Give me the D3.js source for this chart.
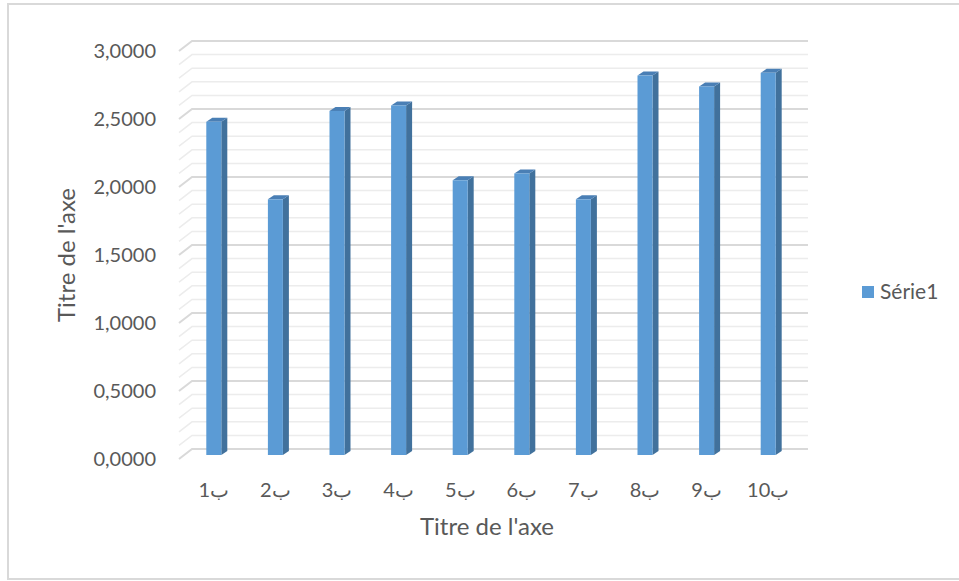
<!DOCTYPE html>
<html><head><meta charset="utf-8">
<script src="https://cdn.jsdelivr.net/npm/d3@7"></script>
<style>body{margin:0;background:#fff}svg{display:block}</style>
</head><body>
<svg id="c" width="959" height="581"></svg>
<script>
const categories = ["ب1","ب2","ب3","ب4","ب5","ب6","ب7","ب8","ب9","ب10"];
const values = [2.45, 1.88, 2.53, 2.57, 2.02, 2.07, 1.88, 2.79, 2.71, 2.81];
const yTicks = [0, 0.5, 1, 1.5, 2, 2.5, 3];
const minorTicks = d3.range(0, 3.0001, 0.1);
const seriesName = "Série1";
const axisTitle = "Titre de l'axe";

const svg = d3.select("#c");
const font = "Lato, 'Open Sans', sans-serif";
const txt = "#595959";

svg.append("rect").attr("x",8).attr("y",4).attr("width",960).attr("height",575)
  .attr("fill","#fff").attr("stroke","#d9d9d9").attr("stroke-width",2);

// back wall scale
const yBack = d3.scaleLinear().domain([0,3]).range([449,41]);
const backX0 = 192, backX1 = 808;
const dx = -13, dy = 10; // depth offset back->front

const g = svg.append("g");
function gridLine(v, major){
  const y = yBack(v);
  g.append("path")
    .attr("d", `M${backX0+dx},${y+dy}L${backX0},${y}L${backX1},${y}`)
    .attr("fill","none")
    .attr("stroke", major ? "#d9d9d9" : "#ececec")
    .attr("stroke-width", major ? 2 : 1.5);
}
minorTicks.forEach(v => { if (!yTicks.some(t => Math.abs(t-v)<1e-6)) gridLine(v,false); });
yTicks.forEach(v => gridLine(v,true));

// y tick labels
svg.append("g").selectAll("text").data(yTicks).enter().append("text")
  .attr("x",156).attr("y",d=>yBack(d)+dy).attr("dy","0.35em")
  .attr("text-anchor","end").attr("font-family",font).attr("font-size",20).attr("fill",txt)
  .text(d => d3.format(".4f")(d).replace(".",","));

// bars
const x = d3.scaleBand().domain(categories).range([183,799]);
const yBar = d3.scaleLinear().domain([0,3]).range([455,47]);
const bw = 15, sdx = 6, sdy = -4;
const bars = svg.append("g");
categories.forEach((c,i)=>{
  const cx = x(c) + x.bandwidth()/2;
  const x0 = cx - bw/2, x1 = cx + bw/2;
  const yt = yBar(values[i]), yb = yBar(0);
  bars.append("path").attr("d",`M${x1},${yb}L${x1+sdx},${yb+sdy}L${x1+sdx},${yt+sdy}L${x1},${yt}Z`).attr("fill","#41719c");
  bars.append("path").attr("d",`M${x0},${yt}L${x0+sdx},${yt+sdy}L${x1+sdx},${yt+sdy}L${x1},${yt}Z`).attr("fill","#4a7fb5");
  bars.append("rect").attr("x",x0).attr("y",yt).attr("width",bw).attr("height",yb-yt).attr("fill","#5b9bd5");
});

// x labels
svg.append("g").selectAll("text").data(categories).enter().append("text")
  .attr("x",d=>x(d)+x.bandwidth()/2).attr("y",490).attr("dy","0.35em")
  .attr("text-anchor","middle").attr("font-family",font).attr("font-size",20).attr("fill",txt)
  .text(d=>d);

// titles
svg.append("text").attr("x",487).attr("y",527).attr("dy","0.35em").attr("text-anchor","middle")
  .attr("font-family",font).attr("font-size",24).attr("fill",txt).text(axisTitle);
svg.append("text").attr("transform","translate(67,255) rotate(-90)").attr("dy","0.35em").attr("text-anchor","middle")
  .attr("font-family",font).attr("font-size",24).attr("fill",txt).text(axisTitle);

// legend
svg.append("rect").attr("x",862).attr("y",286).attr("width",12).attr("height",12).attr("fill","#5b9bd5");
svg.append("text").attr("x",880).attr("y",292).attr("dy","0.35em").attr("font-family",font)
  .attr("font-size",21).attr("fill",txt).text(seriesName);
</script>
</body></html>
